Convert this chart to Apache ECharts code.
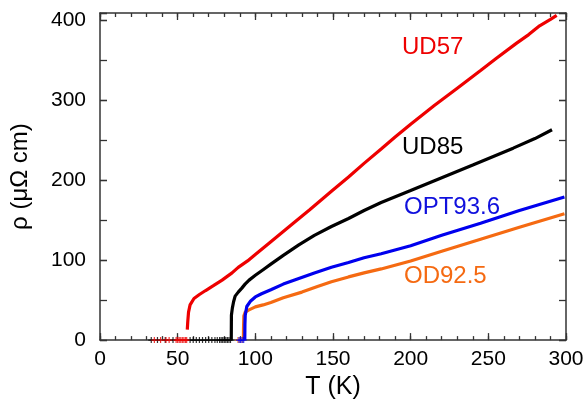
<!DOCTYPE html>
<html><head><meta charset="utf-8">
<script src="https://cdn.jsdelivr.net/npm/echarts@6/dist/echarts.min.js"></script>
<style>html,body{margin:0;padding:0;background:#fff}#c{width:587px;height:405px}</style>
</head><body><div id="c"></div>
<script>
// UD57 (red)
var ud57T   = [56.2, 56.5, 57, 58, 60.5, 64, 68, 73, 78.6, 85, 89, 95, 100, 110, 125, 135, 149, 160, 170, 181, 190, 200, 215, 230, 245, 255, 268, 276, 283, 290, 294];
var ud57R   = [13, 23, 35, 44, 52, 57, 62, 68, 75, 84, 91, 99, 107, 123, 147, 163, 186, 204, 221, 239, 254, 270, 293, 315, 337, 352, 371, 382, 393, 401, 406];
var ud57Z   = [35, 39, 42.5, 44.5, 49, 50, 51, 52, 53, 54, 55, 55.8];
// UD85 (black)
var ud85T   = [84.5, 84.6, 85.2, 86, 87, 89, 91.3, 93.4, 96, 100, 105, 110, 118, 128, 138, 149, 160, 170, 181, 200, 220, 240, 266, 280, 291];
var ud85R   = [0, 31, 40, 48, 55, 60, 65, 70, 75, 81, 88, 95, 106, 119, 131, 142, 152, 162, 172, 187, 203, 219, 240, 252, 263];
var ud85Z   = [33, 37, 42, 47, 58, 60, 62, 64, 66, 68, 70, 72, 74, 75.5, 77, 78, 79, 80, 81, 82, 83, 84];
// OPT93.6 (blue)
var optT    = [93.2, 93.3, 93.5, 94.5, 97, 100, 104, 110, 118, 128, 138, 149, 160, 170, 181, 200, 220, 245, 270, 299];
var optR    = [0, 20, 31, 42, 49, 54, 58, 63, 70, 77, 84, 91, 97, 103, 108, 118, 131, 146, 162, 179];
var optZ    = [89.5, 90.5, 91.5, 92.5];
// OD92.5 (orange)
var odT     = [92.3, 92.4, 92.6, 93.5, 95.6, 100, 105, 110, 118, 130, 140, 149, 160, 170, 181, 200, 220, 245, 270, 299];
var odR     = [0, 15, 30, 35, 37.5, 41.5, 44, 47, 53, 60, 67, 73, 79, 84, 89, 99, 111, 126, 141, 158];
var odZ     = [88.8, 90, 91.5];

var xTicks = [0, 50, 100, 150, 200, 250, 300];
var yTicks = [0, 100, 200, 300, 400];

function pairs(a, b) { return a.map(function (v, i) { return [v, b[i]]; }); }
function zeros(a) { return a.map(function (v) { return [v, 0]; }); }

var plus = 'path://M0,4H10V6H0Z M4,0H6V10H4Z';
var cRed = '#ee0000', cBlk = '#000000', cBlu = '#0000ee', cOrg = '#f56a12';

function lineS(name, T, R, color, z) {
  return { name: name, type: 'line', data: pairs(T, R), showSymbol: false, symbol: 'none',
    lineStyle: { color: color, width: 3.2 }, z: z, animation: false };
}
function zeroS(name, Z, color, z) {
  return { name: name + ' 0', type: 'scatter', data: zeros(Z), symbol: plus, symbolSize: 6,
    itemStyle: { color: color }, z: z, animation: false };
}

var font = 'Liberation Sans, Arial, sans-serif';
var tickStyle = { color: '#333', width: 1.3 };

function xAx(pos, interval, len, showLine, labels) {
  var a = {
    type: 'value', position: pos, min: xTicks[0], max: xTicks[xTicks.length - 1], interval: interval,
    axisLine: { show: showLine, onZero: false, lineStyle: { color: '#333', width: 1.5 } },
    axisTick: { show: true, inside: true, length: len, lineStyle: tickStyle },
    splitLine: { show: false },
    axisLabel: { show: false }
  };
  if (labels) {
    a.axisLabel = { show: true, fontSize: 21, color: '#000', fontFamily: font, margin: 9 };
    a.name = 'T (K)'; a.nameLocation = 'middle'; a.nameGap = 27;
    a.nameTextStyle = { fontSize: 25, color: '#000', fontFamily: font };
  }
  return a;
}
function yAx(pos, interval, len, showLine, labels) {
  var a = {
    type: 'value', position: pos, min: 0, max: 409, interval: interval,
    axisLine: { show: showLine, onZero: false, lineStyle: { color: '#333', width: 1.5 } },
    axisTick: { show: true, inside: true, length: len, lineStyle: tickStyle },
    splitLine: { show: false },
    axisLabel: { show: false }
  };
  if (labels) {
    a.axisLabel = { show: true, fontSize: 21, color: '#000', fontFamily: font, margin: 14,
      formatter: function (v) { return yTicks.indexOf(v) >= 0 ? String(v) : ''; } };
    a.name = 'ρ (μΩ cm)'; a.nameLocation = 'middle'; a.nameGap = 68;
    a.nameTextStyle = { fontSize: 24, color: '#000', fontFamily: font };
  }
  return a;
}

var chart = echarts.init(document.getElementById('c'), null, { renderer: 'canvas' });
chart.setOption({
  animation: false,
  grid: { left: 97, right: 21, top: 13, bottom: 60 },
  xAxis: [
    xAx('bottom', 50, 7, true, true),
    xAx('top', 50, 7, true, false),
    xAx('bottom', 10, 4, false, false),
    xAx('top', 10, 4, false, false)
  ],
  yAxis: [
    yAx('left', 100, 7, true, true),
    yAx('right', 100, 7, true, false),
    yAx('left', 50, 7, false, false),
    yAx('right', 50, 7, false, false)
  ],
  series: [
    lineS('OD92.5', odT, odR, cOrg, 2), zeroS('OD92.5', odZ, cOrg, 2),
    lineS('OPT93.6', optT, optR, cBlu, 3), zeroS('OPT93.6', optZ, cBlu, 3),
    lineS('UD85', ud85T, ud85R, cBlk, 4), zeroS('UD85', ud85Z, cBlk, 4),
    lineS('UD57', ud57T, ud57R, cRed, 5), zeroS('UD57', ud57Z, cRed, 5)
  ],
  graphic: [
    { type: 'text', left: 402, top: 35, style: { text: 'UD57', fill: cRed, fontSize: 24, fontFamily: font } },
    { type: 'text', left: 402, top: 135, style: { text: 'UD85', fill: '#000', fontSize: 24, fontFamily: font } },
    { type: 'text', left: 404, top: 195, style: { text: 'OPT93.6', fill: '#1010dd', fontSize: 24, fontFamily: font } },
    { type: 'text', left: 404, top: 264, style: { text: 'OD92.5', fill: cOrg, fontSize: 24, fontFamily: font } }
  ]
});
</script></body></html>
